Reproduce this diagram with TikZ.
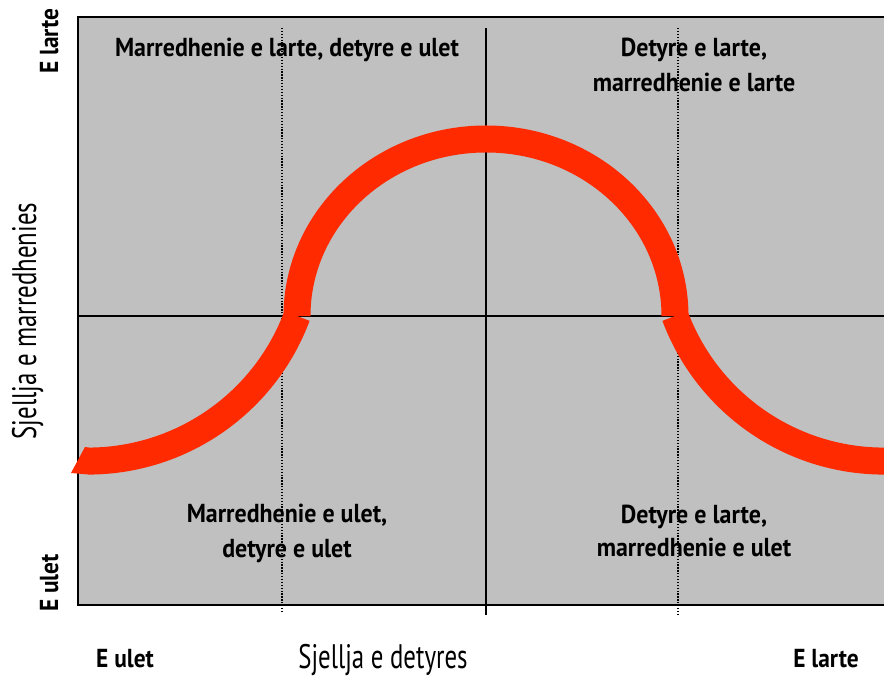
\documentclass[tikz,border=0pt]{standalone}
\usepackage{fontspec}
\setmainfont{PT Sans}
\newfontfamily\cbf{PT Sans}[FakeStretch=0.92]
\newfontfamily\cend{PT Sans}[FakeStretch=0.9]
\newfontfamily\creg{PT Sans}[FakeStretch=0.73]
\definecolor{boxgray}{HTML}{C0C0C0}
\definecolor{curvered}{HTML}{FF2A00}
\begin{document}
\begin{tikzpicture}[x=1pt,y=1pt,
  quad/.style={font=\cbf\bfseries\fontsize{26}{30}\selectfont, anchor=base, inner sep=0pt},
  endlab/.style={font=\cend\bfseries\fontsize{26}{30}\selectfont, anchor=base, inner sep=0pt},
  axlab/.style={font=\creg\fontsize{34}{38}\selectfont, anchor=base, inner sep=0pt},
  guide/.style={line width=1.3pt, dash pattern=on 1.3pt off 1.6pt},
  axisline/.style={line width=1.8pt},
  band/.style={line width=27pt, curvered, line cap=butt}]
\useasboundingbox (0,0) rectangle (884,677);
% frame
\node[draw=black, line width=2pt, fill=boxgray, minimum width=812pt, minimum height=588pt, inner sep=0pt, anchor=south west] (frame) at (77,71) {};
% quadrant texts
\node[quad] (q1) at (287,620) {Marredhenie e larte, detyre e ulet};
\node[quad] (q2a) at (694,620) {Detyre e larte,};
\node[quad] (q2b) at (694,585) {marredhenie e larte};
\node[quad] (q3a) at (287,154) {Marredhenie e ulet,};
\node[quad] (q3b) at (287,119) {detyre e ulet};
\node[quad] (q4a) at (694,153) {Detyre e larte,};
\node[quad] (q4b) at (694,120) {marredhenie e ulet};
% axis labels
\node[endlab, rotate=90] (yhi) at (58,636) {E larte};
\node[endlab, rotate=90] (ylo) at (58,94) {E ulet};
\node[axlab, rotate=90] (ytitle) at (36,356) {Sjellja e marredhenies};
\node[endlab] (xlo) at (125,9) {E ulet};
\node[axlab] (xtitle) at (383,8) {Sjellja e detyres};
\node[endlab] (xhi) at (826,9) {E larte};
% guide lines
\coordinate (vtop) at (486,649);
\coordinate (vbot) at (486,62);
\coordinate (hl) at (77,361);
\coordinate (hr) at (886,361);
\coordinate (d1t) at (282,649);
\coordinate (d1b) at (282,64);
\coordinate (d2t) at (678,649);
\coordinate (d2b) at (678,63);
\draw[axisline] (vtop) -- (vbot);
\draw[axisline] (hl) -- (hr);
\draw[guide] (d1t) -- (d1b);
\draw[guide] (d2t) -- (d2b);
% red curve
\coordinate (aL) at (297,361);
\coordinate (aR) at (675,361);
\draw[band] (aL) arc[start angle=180, end angle=0, x radius=189, y radius=177];
\draw[band] (aR) arc[start angle=200.47, end angle=270, radius=223.1];
\draw[band] (aL) arc[start angle=-20.47, end angle=-90, radius=223.1];
\fill[curvered] (88.5,229.5) -- (85,230) -- (71,204) -- (88.5,202.5) -- cycle;
\end{tikzpicture}
\end{document}
